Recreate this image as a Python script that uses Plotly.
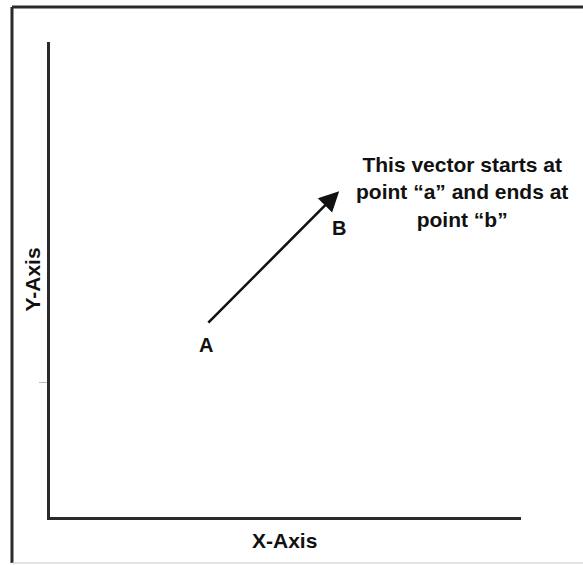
import plotly.graph_objects as go

# ---- data (axis units 0..10) ----
x_range = [0, 10]
y_range = [0, 10]
point_a = [3.33, 4.06]   # vector start "A"
point_b = [6.14, 6.86]   # vector end "B"
point_labels = ["A", "B"]
axis_titles = ["X-Axis", "Y-Axis"]
note_lines = ["This vector starts at", "point \u201ca\u201d and ends at", "point \u201cb\u201d"]
note_pos = [8.75, 6.84]
y_tick_vals = [2.84]

FONT = "Liberation Sans, Arial, Helvetica, sans-serif"
TXT = "#111111"
LINE = "#2a2a2a"

def f(size):
    return dict(family=FONT, size=size, color=TXT, weight="bold")

fig = go.Figure()

# invisible trace to establish axes
fig.add_trace(go.Scatter(x=[point_a[0], point_b[0]], y=[point_a[1], point_b[1]],
                         mode="markers", marker=dict(opacity=0), hoverinfo="skip",
                         showlegend=False))

annotations = []
# the vector arrow
annotations.append(dict(x=point_b[0], y=point_b[1], ax=point_a[0], ay=point_a[1],
                        xref="x", yref="y", axref="x", ayref="y", text="",
                        showarrow=True, arrowhead=2, arrowsize=1.55, arrowwidth=2.6,
                        arrowcolor="#111111", standoff=0, startstandoff=0))
# point labels
annotations.append(dict(x=point_a[0], y=point_a[1], xref="x", yref="y", text=point_labels[0],
                        showarrow=False, yshift=-21, xshift=-1, xanchor="center", yanchor="middle",
                        font=f(20)))
annotations.append(dict(x=point_b[0], y=point_b[1], xref="x", yref="y", text=point_labels[1],
                        showarrow=False, yshift=-37, xshift=0, xanchor="center", yanchor="middle",
                        font=f(20)))
# note text
annotations.append(dict(x=note_pos[0], y=note_pos[1], xref="x", yref="y",
                        text="<br>".join(note_lines), showarrow=False, align="center",
                        xanchor="center", yanchor="middle", font=f(21)))
# axis titles
annotations.append(dict(x=0.497, y=-0.05, xref="paper", yref="paper", text=axis_titles[0],
                        xanchor="center", yanchor="middle", showarrow=False, font=f(21)))
annotations.append(dict(x=-0.038, y=0.5, xref="paper", yref="paper", text=axis_titles[1],
                        textangle=-90, xanchor="center", yanchor="middle", showarrow=False,
                        font=f(21)))

shapes = [
    # outer frame: left and top heavy, bottom light
    dict(type="line", xref="paper", yref="paper", x0=-0.0807, x1=-0.0807, y0=-0.0968, y1=1.0737,
         line=dict(color=LINE, width=3)),
    dict(type="line", xref="paper", yref="paper", x0=-0.0807, x1=1.2, y0=1.0737, y1=1.0737,
         line=dict(color=LINE, width=3)),
    dict(type="line", xref="paper", yref="paper", x0=-0.0807, x1=1.2, y0=-0.0968, y1=-0.0968,
         line=dict(color="#c8c8c8", width=1)),
]

fig.update_layout(
    width=583, height=565,
    margin=dict(l=50, r=62, t=42, b=48),
    paper_bgcolor="white", plot_bgcolor="white",
    showlegend=False,
    annotations=annotations,
    shapes=shapes,
    xaxis=dict(range=x_range, showgrid=False, zeroline=False, showline=True,
               linecolor=LINE, linewidth=3, showticklabels=False, ticks=""),
    yaxis=dict(range=y_range, showgrid=False, zeroline=False, showline=True,
               linecolor=LINE, linewidth=3, showticklabels=False,
               tickvals=y_tick_vals, ticks="outside", ticklen=8, tickwidth=1,
               tickcolor="#bbbbbb"),
)

fig.write_html("out.html", config={"displayModeBar": False},
               post_script="document.body.style.margin='0';")
